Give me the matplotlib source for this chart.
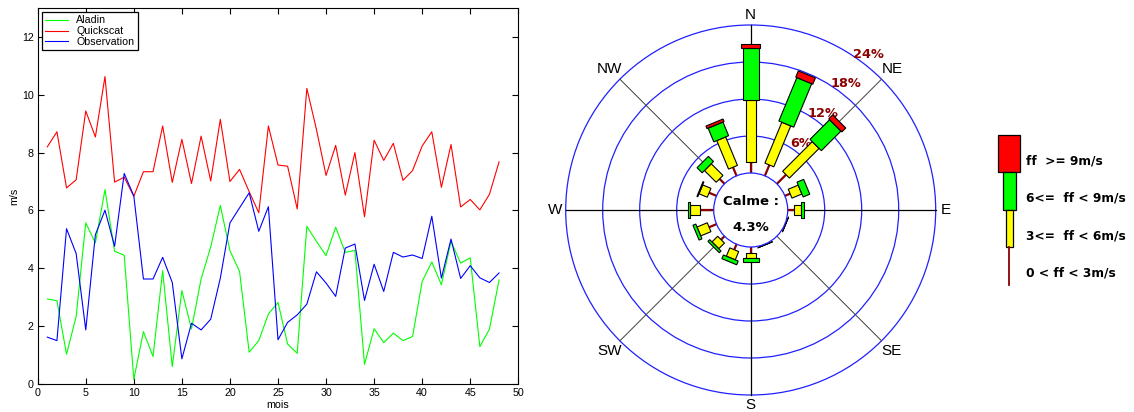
import numpy as np
import matplotlib.pyplot as plt
from matplotlib.patches import Polygon, Circle, Rectangle

plt.rcParams['font.family'] = ['Liberation Sans', 'DejaVu Sans']

# =========================================================
# DATA : monthly mean wind speed (m/s)
# =========================================================

mois = np.arange(1, 49)

aladin = [2.94, 2.88, 1.03, 2.33, 5.57, 4.88, 6.72, 4.59, 4.45, 0.16,
          1.81, 0.95, 3.92, 0.60, 3.23, 1.90, 3.63, 4.74, 6.17, 4.61,
          3.89, 1.10, 1.50, 2.42, 2.82, 1.38, 1.06, 5.45, 4.93, 4.44,
          5.42, 4.55, 4.62, 0.68, 1.91, 1.43, 1.76, 1.50, 1.64, 3.55,
          4.22, 3.43, 4.93, 4.18, 4.36, 1.29, 1.90, 3.60]

quickscat = [8.20, 8.72, 6.78, 7.06, 9.44, 8.54, 10.63, 6.98, 7.15, 6.49,
             7.34, 7.34, 8.92, 6.97, 8.46, 6.93, 8.57, 7.02, 9.15, 7.00,
             7.42, 6.65, 5.92, 8.92, 7.57, 7.53, 6.05, 10.22, 8.80, 7.21,
             8.25, 6.53, 8.00, 5.78, 8.43, 7.73, 8.32, 7.04, 7.38, 8.23,
             8.72, 6.80, 8.28, 6.12, 6.38, 6.02, 6.56, 7.68]

observation = [1.62, 1.50, 5.37, 4.51, 1.87, 5.16, 6.01, 4.76, 7.28, 6.50,
               3.63, 3.63, 4.38, 3.51, 0.87, 2.10, 1.87, 2.24, 3.66, 5.57,
               6.09, 6.61, 5.28, 6.13, 1.53, 2.13, 2.39, 2.76, 3.88, 3.49,
               3.03, 4.70, 4.84, 2.89, 4.14, 3.20, 4.55, 4.39, 4.46, 4.34,
               5.80, 3.66, 5.01, 3.65, 4.09, 3.67, 3.51, 3.84]

# =========================================================
# DATA : wind rose (% per direction and speed class)
# =========================================================

directions = ['N', 'NNE', 'NE', 'ENE', 'E', 'ESE', 'SE', 'SSE',
              'S', 'SSW', 'SW', 'WSW', 'W', 'WNW', 'NW', 'NNW']
calme = 4.3
ff_0_3 = [1.74, 1.90, 2.10, 0.92, 1.09, 0.0, 0.0, 0.0,
          1.03, 0.97, 0.80, 1.30, 2.20, 1.30, 1.14, 1.50]
ff_3_6 = [10.10, 7.18, 6.80, 1.74, 1.07, 0.10, 0.0, 0.10,
          0.77, 1.46, 1.30, 1.80, 1.65, 1.45, 2.69, 5.00]
ff_6_9 = [8.36, 7.62, 4.50, 1.17, 0.49, 0.02, 0.0, 0.02,
          0.60, 0.65, 0.40, 0.50, 0.25, 0.15, 1.17, 2.40]
ff_9 = [0.70, 1.10, 0.90, 0.0, 0.0, 0.0, 0.0, 0.0,
        0.0, 0.0, 0.0, 0.0, 0.0, 0.0, 0.0, 0.45]

rings = [6, 12, 18, 24]
cardinals = ['N', 'NE', 'E', 'SE', 'S', 'SW', 'W', 'NW']
classes = ['ff  >= 9m/s', '6<=  ff < 9m/s', '3<=  ff < 6m/s', '0 < ff < 3m/s']

# =========================================================
# FIGURE
# =========================================================

W, H = 1134, 412
fig = plt.figure(figsize=(W / 100, H / 100), dpi=100)

# ---------------- time series ----------------
ax = fig.add_axes([37.7 / W, 28 / H, 480.6 / W, 376 / H])
ax.plot(mois, aladin, color='#00ff00', lw=0.8, label='Aladin')
ax.plot(mois, quickscat, color='#ff0000', lw=0.8, label='Quickscat')
ax.plot(mois, observation, color='#0000ff', lw=0.8, label='Observation')

ax.set_xlim(0, 50)
ax.set_ylim(0, 13)
ax.set_xticks(range(0, 51, 5))
ax.set_yticks(range(0, 13, 2))
ax.tick_params(direction='in', top=True, right=True, length=4,
               labelsize=7.7, pad=3)
ax.set_xlabel('mois', fontsize=7.7, labelpad=1)
ax.set_ylabel('m/s', fontsize=7.7, labelpad=2)

leg = ax.legend(loc='upper left', fontsize=7.7, fancybox=False,
                edgecolor='black', framealpha=1, handlelength=2.1,
                labelspacing=0.08, borderaxespad=0.4, borderpad=0.3,
                handletextpad=0.8)
leg.get_frame().set_linewidth(0.9)

# ---------------- wind rose ----------------
SCALE = 37 / 6          # pixels per percent
CX, CY = 750.7, 210     # rose centre, pixels
R0 = 6                  # calm circle radius (percent units)
BOLD = dict(family='DejaVu Sans', fontweight='bold')

ax2 = fig.add_axes([540 / W, 0, (W - 540) / W, 1])
ax2.set_xlim(-(CX - 540) / SCALE, (W - CX) / SCALE)
ax2.set_ylim(-(H - CY) / SCALE, CY / SCALE)
ax2.axis('off')

r_out = R0 + rings[-1]

# rings
for p in rings:
    ax2.add_patch(Circle((0, 0), R0 + p, fill=False, edgecolor='#2020ff',
                         lw=0.9, zorder=1))

# spokes + direction labels
for k, name in enumerate(cardinals):
    t = np.deg2rad(45 * k)
    u = np.array([np.sin(t), np.cos(t)])
    diag = k % 2 == 1
    ax2.plot([0, r_out * u[0]], [0, r_out * u[1]],
             color='#404040' if diag else 'black',
             lw=0.7 if diag else 0.9, zorder=2)
    rl = r_out + (2.4 if diag else 1.7)
    ax2.text(rl * u[0], rl * u[1], name, ha='center', va='center',
             fontsize=11, zorder=3)

# ring labels
for p in rings:
    t = np.deg2rad(37)
    rl = R0 + p + 1.6
    ax2.text(rl * np.sin(t), rl * np.cos(t), f'{p}%', ha='center',
             va='center', fontsize=9.3, color='#8b0000', zorder=3, **BOLD)


def seg(theta, r0, r1, half, color):
    u = np.array([np.sin(theta), np.cos(theta)])
    n = np.array([np.cos(theta), -np.sin(theta)])
    pts = [r0 * u + half * n, r1 * u + half * n,
           r1 * u - half * n, r0 * u - half * n]
    ax2.add_patch(Polygon(pts, closed=True, facecolor=color,
                          edgecolor='black', lw=0.8, zorder=5))


for i in range(len(directions)):
    t = np.deg2rad(22.5 * i)
    u = np.array([np.sin(t), np.cos(t)])
    r = R0
    if ff_0_3[i] > 0:
        r1 = r + ff_0_3[i]
        ax2.plot([r * u[0], r1 * u[0]], [r * u[1], r1 * u[1]],
                 color='#8b0000', lw=1.6, zorder=4, solid_capstyle='butt')
        r = r1
    for val, half, col in [(ff_3_6[i], 0.78, '#ffff00'),
                           (ff_6_9[i], 1.3, '#00ff00'),
                           (ff_9[i], 1.5, '#ff0000')]:
        if val > 0:
            seg(t, r, r + val, half, col)
            r += val

# calm circle
ax2.add_patch(Circle((0, 0), R0, facecolor='white', edgecolor='#2020ff',
                     lw=0.9, zorder=6))
ax2.text(0, 1.45, 'Calme :', ha='center', va='center', fontsize=9.5,
         zorder=7, **BOLD)
ax2.text(0, -2.9, f'{calme}%', ha='center', va='center', fontsize=9.5,
         zorder=7, **BOLD)

# speed-class legend
LX = (1009.2 - CX) / SCALE
LTOP = (CY - 135) / SCALE
BLK = 6.08
for j, (half, col) in enumerate([(1.76, '#ff0000'), (1.08, '#00ff00'),
                                 (0.54, '#ffff00')]):
    y0 = LTOP - (j + 1) * BLK
    ax2.add_patch(Rectangle((LX - half, y0), 2 * half, BLK, facecolor=col,
                            edgecolor='black', lw=0.9, zorder=5))
ax2.plot([LX, LX], [LTOP - 3 * BLK, LTOP - 4 * BLK], color='#8b0000',
         lw=1.3, zorder=5)
TX = (1026 - CX) / SCALE
for j, lab in enumerate(classes):
    yc = LTOP - (j + 0.5) * BLK - 1.15
    ax2.text(TX, yc, lab, ha='left', va='center', fontsize=8.8, **BOLD)

fig.savefig('out.png', dpi=100)
